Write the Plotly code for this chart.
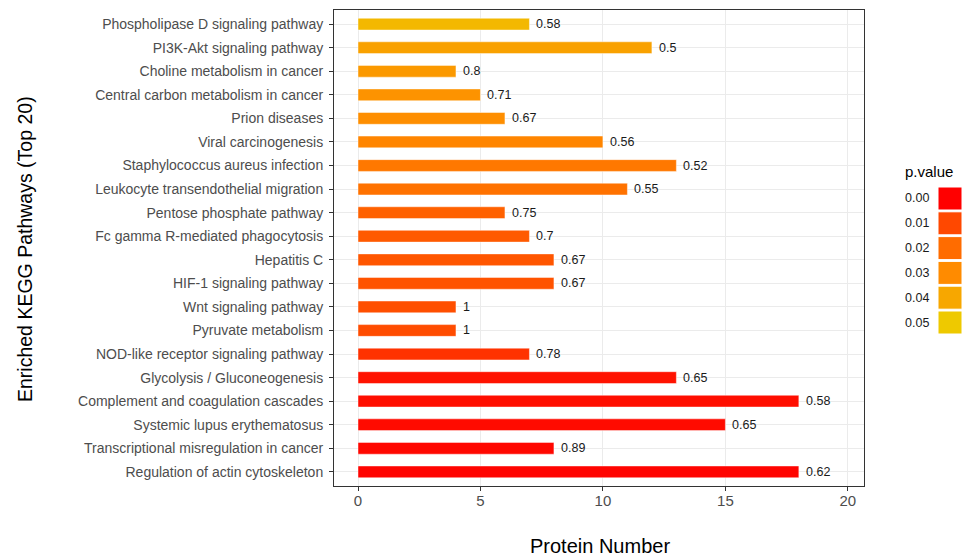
import plotly.graph_objects as go
from plotly.colors import sample_colorscale

# KEGG pathways, listed from bottom to top of the chart
pathways = [
    "Regulation of actin cytoskeleton",
    "Transcriptional misregulation in cancer",
    "Systemic lupus erythematosus",
    "Complement and coagulation cascades",
    "Glycolysis / Gluconeogenesis",
    "NOD-like receptor signaling pathway",
    "Pyruvate metabolism",
    "Wnt signaling pathway",
    "HIF-1 signaling pathway",
    "Hepatitis C",
    "Fc gamma R-mediated phagocytosis",
    "Pentose phosphate pathway",
    "Leukocyte transendothelial migration",
    "Staphylococcus aureus infection",
    "Viral carcinogenesis",
    "Prion diseases",
    "Central carbon metabolism in cancer",
    "Choline metabolism in cancer",
    "PI3K-Akt signaling pathway",
    "Phospholipase D signaling pathway",
]
protein_number = [18, 8, 15, 18, 13, 7, 4, 4, 8, 8, 7, 6, 11, 13, 10, 6, 5, 4, 12, 7]
ratio = [0.62, 0.89, 0.65, 0.58, 0.65, 0.78, 1, 1, 0.67, 0.67, 0.7, 0.75, 0.55, 0.52,
         0.56, 0.67, 0.71, 0.8, 0.5, 0.58]
p_value = [0.0005, 0.001, 0.0015, 0.002, 0.0025, 0.007, 0.011, 0.012, 0.013, 0.014,
           0.015, 0.017, 0.022, 0.024, 0.028, 0.031, 0.033, 0.035, 0.038, 0.045]
legend_breaks = [0.00, 0.01, 0.02, 0.03, 0.04, 0.05]

P_MIN, P_MAX = 0.0, 0.05
colorscale = [
    [0.0, "#FF0000"],
    [0.2, "#FF4800"],
    [0.4, "#FF6C00"],
    [0.6, "#FF8B00"],
    [0.8, "#F7A700"],
    [1.0, "#EEC900"],
]

FONT = "Liberation Sans, Arial, sans-serif"
W, H = 963, 557
L, R, T, B = 334, 99, 10, 71

fig = go.Figure()
fig.add_trace(go.Bar(
    x=protein_number,
    y=pathways,
    orientation="h",
    width=0.5,
    marker=dict(color=p_value, colorscale=colorscale, cmin=P_MIN, cmax=P_MAX,
                line=dict(color="rgba(255,255,255,0.45)", width=1)),
    showlegend=False,
    hovertemplate="%{y}: %{x}<extra></extra>",
))

# Ratio labels just right of each bar
for name, n, r in zip(pathways, protein_number, ratio):
    fig.add_annotation(x=n, y=name, xref="x", yref="y", text=f"{r:g}",
                       showarrow=False, xanchor="left", yanchor="middle", xshift=5,
                       font=dict(family=FONT, size=12.5, color="#1a1a1a"))

fig.update_layout(
    width=W, height=H,
    margin=dict(l=L, r=R, t=T, b=B, autoexpand=False),
    paper_bgcolor="white",
    plot_bgcolor="white",
    font=dict(family=FONT),
    xaxis=dict(
        range=[-0.98, 20.66],
        tickvals=[0, 5, 10, 15, 20],
        ticks="outside", ticklen=4, tickcolor="#333333",
        tickfont=dict(size=15, color="#4d4d4d"),
        ticklabelstandoff=-3,
        showgrid=True, gridcolor="#EBEBEB", gridwidth=1,
        zeroline=False, automargin=False,
        showline=True, linecolor="#333333", linewidth=1, mirror=True,
    ),
    yaxis=dict(
        type="category",
        categoryorder="array", categoryarray=pathways,
        range=[-0.6, 19.6],
        ticks="outside", ticklen=4, tickcolor="#333333",
        tickfont=dict(size=14, color="#4d4d4d"),
        ticklabelstandoff=3,
        showgrid=True, gridcolor="#EBEBEB", gridwidth=1,
        automargin=False,
        showline=True, linecolor="#333333", linewidth=1, mirror=True,
    ),
)

pw = W - L - R
ph = H - T - B


def px_x(x):
    return (x - L) / pw


def px_y(y):
    return 1 - (y - T) / ph


# Axis titles
fig.add_annotation(x=px_x(600), y=px_y(546), xref="paper", yref="paper",
                   text="Protein Number", showarrow=False,
                   xanchor="center", yanchor="middle",
                   font=dict(family=FONT, size=20, color="#000"))
fig.add_annotation(x=px_x(25), y=px_y(249), xref="paper", yref="paper",
                   text="Enriched KEGG Pathways (Top 20)", showarrow=False, textangle=-90,
                   xanchor="center", yanchor="middle",
                   font=dict(family=FONT, size=19.5, color="#000"))

# Discrete p.value legend on the right
key_colors = sample_colorscale(colorscale, [(b - P_MIN) / (P_MAX - P_MIN) for b in legend_breaks])
fig.add_annotation(x=px_x(903), y=px_y(171), xref="paper", yref="paper",
                   text="p.value", showarrow=False, xanchor="left", yanchor="middle",
                   font=dict(family=FONT, size=15, color="#000"))
for i, (b, c) in enumerate(zip(legend_breaks, key_colors)):
    top = 187 + i * 24.8
    fig.add_shape(type="rect", xref="paper", yref="paper",
                  x0=px_x(938), x1=px_x(962), y0=px_y(top), y1=px_y(top + 23),
                  fillcolor=c, line=dict(color="white", width=1))
    fig.add_annotation(x=px_x(903), y=px_y(top + 11.5), xref="paper", yref="paper",
                       text=f"{b:.2f}", showarrow=False, xanchor="left", yanchor="middle",
                       font=dict(family=FONT, size=12.5, color="#1a1a1a"))

fig.write_html("out.html")
